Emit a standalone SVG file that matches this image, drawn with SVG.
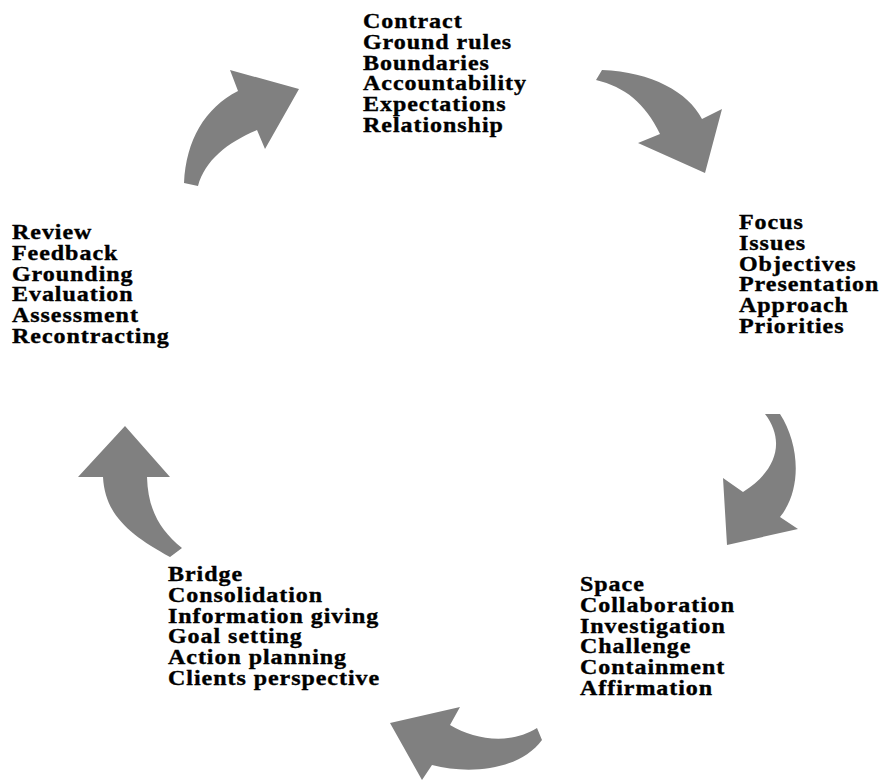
<svg xmlns="http://www.w3.org/2000/svg" width="880" height="781" viewBox="0 0 880 781">
<style>
.t{font-family:"Liberation Serif","Times New Roman",serif;font-weight:bold;font-size:20px;letter-spacing:0.8px;fill:#000;stroke:#000;stroke-width:0.35px}
.a{fill:#808080;stroke:none}
</style>
<rect width="880" height="781" fill="#fff"/>
<g id="node-contract" transform="translate(363 0) scale(1.2 1)">
<text class="t" x="0" y="28">Contract</text>
<text class="t" x="0" y="48.8">Ground rules</text>
<text class="t" x="0" y="69.6">Boundaries</text>
<text class="t" x="0" y="90.4">Accountability</text>
<text class="t" x="0" y="111.2">Expectations</text>
<text class="t" x="0" y="132">Relationship</text>
</g>
<g id="node-focus" transform="translate(739 0) scale(1.2 1)">
<text class="t" x="0" y="229">Focus</text>
<text class="t" x="0" y="249.8">Issues</text>
<text class="t" x="0" y="270.6">Objectives</text>
<text class="t" x="0" y="291.4">Presentation</text>
<text class="t" x="0" y="312.2">Approach</text>
<text class="t" x="0" y="333">Priorities</text>
</g>
<g id="node-space" transform="translate(580 0) scale(1.2 1)">
<text class="t" x="0" y="591">Space</text>
<text class="t" x="0" y="611.8">Collaboration</text>
<text class="t" x="0" y="632.6">Investigation</text>
<text class="t" x="0" y="653.4">Challenge</text>
<text class="t" x="0" y="674.2">Containment</text>
<text class="t" x="0" y="695">Affirmation</text>
</g>
<g id="node-bridge" transform="translate(168 0) scale(1.2 1)">
<text class="t" x="0" y="581">Bridge</text>
<text class="t" x="0" y="601.8">Consolidation</text>
<text class="t" x="0" y="622.6">Information giving</text>
<text class="t" x="0" y="643.4">Goal setting</text>
<text class="t" x="0" y="664.2">Action planning</text>
<text class="t" x="0" y="685">Clients perspective</text>
</g>
<g id="node-review" transform="translate(12 0) scale(1.2 1)">
<text class="t" x="0" y="239">Review</text>
<text class="t" x="0" y="259.8">Feedback</text>
<text class="t" x="0" y="280.6">Grounding</text>
<text class="t" x="0" y="301.4">Evaluation</text>
<text class="t" x="0" y="322.2">Assessment</text>
<text class="t" x="0" y="343">Recontracting</text>
</g>
<g id="connectors">
<path class="a" d="M184 183 C186 140 205 108 238 91 L230 70 L299 89 L265 149 L257 130 C228 142 205 160 198 186 Z"/>
<path class="a" d="M602 70 C652 72 688 92 702 119 L722 109 L705 173 L638 143 L660 134 C645 103 625 87 596 80 Z"/>
<path class="a" d="M765 414 C785 440 778 470 743 492 L723 478 L727 545 L798 529 L780 517 C802 490 800 445 780 414 Z"/>
<path class="a" d="M537 728 C510 745 475 740 450 725 L460 707 L390 723 L422 780 L432 765 C470 775 520 770 542 740 Z"/>
<path class="a" d="M103 477 L78 477 L125 426 L170 477 L147 477 C148 510 160 530 182 548 L170 557 C130 535 105 515 103 477 Z"/>
</g>
</svg>
